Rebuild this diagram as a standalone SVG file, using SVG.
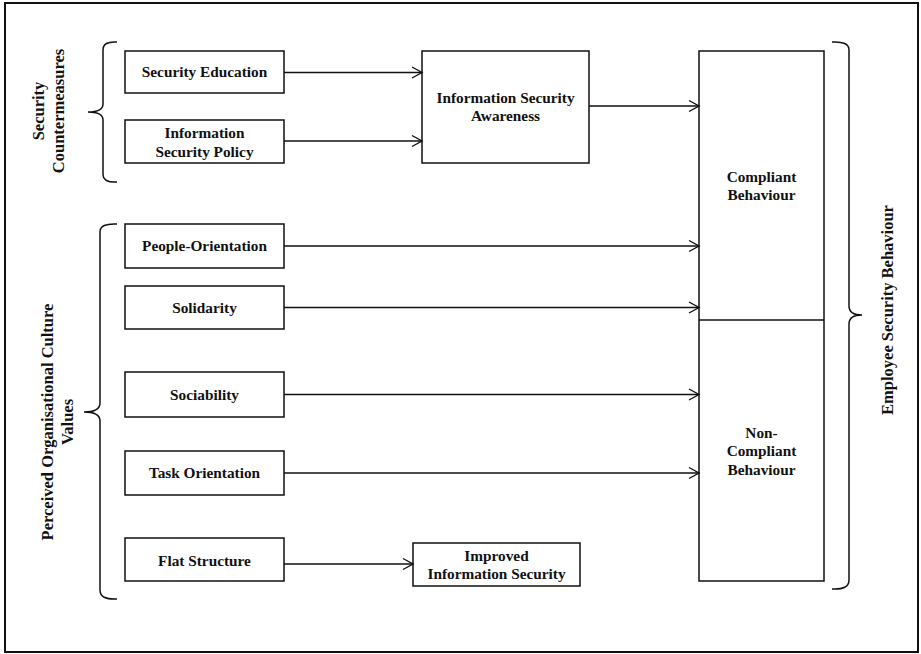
<svg xmlns="http://www.w3.org/2000/svg" width="921" height="654" viewBox="0 0 921 654">
<style>
.box{fill:#fff;stroke:#111;stroke-width:1.5}
.t{font-family:"Liberation Serif",serif;font-weight:bold;font-size:15.3px;fill:#111;text-anchor:middle}
.g{font-family:"Liberation Serif",serif;font-weight:bold;font-size:16.5px;fill:#111;text-anchor:middle}
.c{stroke:#111;stroke-width:1.4;fill:none}
.br{stroke:#111;stroke-width:1.5;fill:none}
</style>
<defs>
<marker id="ah" markerUnits="userSpaceOnUse" markerWidth="14" markerHeight="14" viewBox="0 0 14 14" refX="12" refY="7" orient="auto">
<path d="M2,1.5 L12,7 L2,12.5" fill="none" stroke="#111" stroke-width="1.4"/>
</marker>
</defs>
<rect x="5" y="3" width="913" height="649" fill="#fff" stroke="#111" stroke-width="2"/>

<g id="brace-countermeasures"><path class="br" d="M117,42 Q103,41 103,50 L103,104 Q103,112 88,112 Q103,112 103,120 L103,174 Q103,183 117,182"/></g>
<g id="label-countermeasures"><text class="g" transform="translate(44,111) rotate(-90)">Security</text><text class="g" transform="translate(64,111) rotate(-90)">Countermeasures</text></g>

<g id="brace-culture"><path class="br" d="M117,224 Q100,223 100,232 L100,403 Q100,412 84,412 Q100,412 100,421 L100,590 Q100,600 117,599"/></g>
<g id="label-culture"><text class="g" transform="translate(53,422) rotate(-90)">Perceived Organisational Culture</text><text class="g" transform="translate(73,422) rotate(-90)">Values</text></g>

<g id="brace-employee"><path class="br" d="M832,42 Q849,41 849,50 L849,306 Q849,315 862,315 Q849,315 849,324 L849,580 Q849,590 832,589"/></g>
<g id="label-employee"><text class="g" transform="translate(893,310) rotate(-90)">Employee Security Behaviour</text></g>

<g id="n-security-education"><rect class="box" x="125" y="51" width="159" height="42"/><text class="t" x="204.5" y="77">Security Education</text></g>
<g id="n-infosec-policy"><rect class="box" x="125" y="120" width="159" height="43"/><text class="t" x="204.5" y="138">Information</text><text class="t" x="204.5" y="157">Security Policy</text></g>
<g id="n-awareness"><rect class="box" x="422" y="51" width="167" height="112"/><text class="t" x="505.5" y="103">Information Security</text><text class="t" x="505.5" y="121">Awareness</text></g>
<g id="n-people"><rect class="box" x="125" y="224" width="159" height="44"/><text class="t" x="204.5" y="251">People-Orientation</text></g>
<g id="n-solidarity"><rect class="box" x="125" y="286" width="159" height="43"/><text class="t" x="204.5" y="313">Solidarity</text></g>
<g id="n-sociability"><rect class="box" x="125" y="372" width="159" height="45"/><text class="t" x="204.5" y="400">Sociability</text></g>
<g id="n-task"><rect class="box" x="125" y="451" width="159" height="44"/><text class="t" x="204.5" y="478">Task Orientation</text></g>
<g id="n-flat"><rect class="box" x="125" y="538" width="159" height="43"/><text class="t" x="204.5" y="566">Flat Structure</text></g>
<g id="n-improved"><rect class="box" x="413" y="543" width="167" height="43"/><text class="t" x="496.5" y="561">Improved</text><text class="t" x="496.5" y="579">Information Security</text></g>
<g id="n-behaviour"><rect class="box" x="699" y="51" width="125" height="530"/><line class="box" x1="699" y1="320" x2="824" y2="320"/><text class="t" x="761.5" y="182">Compliant</text><text class="t" x="761.5" y="200">Behaviour</text><text class="t" x="761.5" y="438">Non-</text><text class="t" x="761.5" y="456">Compliant</text><text class="t" x="761.5" y="475">Behaviour</text></g>

<g id="connectors">
<line class="c" x1="284" y1="72.5" x2="422" y2="72.5" marker-end="url(#ah)"/>
<line class="c" x1="284" y1="141" x2="422" y2="141" marker-end="url(#ah)"/>
<line class="c" x1="589" y1="106" x2="699" y2="106" marker-end="url(#ah)"/>
<line class="c" x1="284" y1="246" x2="699" y2="246" marker-end="url(#ah)"/>
<line class="c" x1="284" y1="307.5" x2="699" y2="307.5" marker-end="url(#ah)"/>
<line class="c" x1="284" y1="394.5" x2="699" y2="394.5" marker-end="url(#ah)"/>
<line class="c" x1="284" y1="473" x2="699" y2="473" marker-end="url(#ah)"/>
<line class="c" x1="284" y1="564" x2="413" y2="564" marker-end="url(#ah)"/>
</g>
</svg>
